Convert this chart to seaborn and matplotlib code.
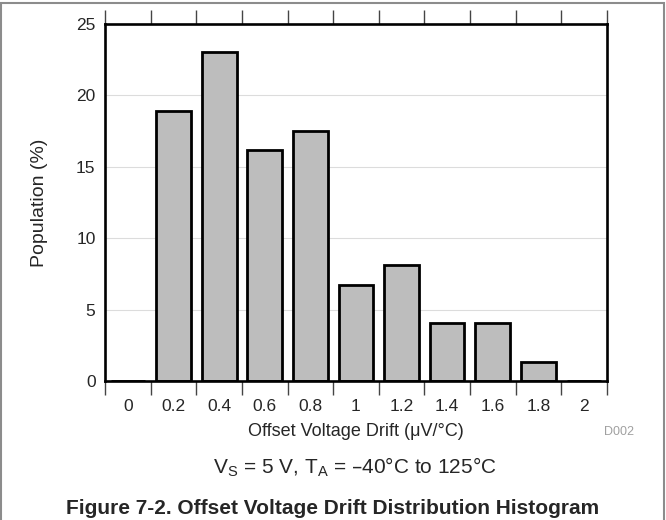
import numpy as np
import pandas as pd
import seaborn as sns
import matplotlib.pyplot as plt
from matplotlib.patches import Rectangle

# histogram values
drift_bins = ['0', '0.2', '0.4', '0.6', '0.8', '1', '1.2', '1.4', '1.6', '1.8', '2']
population = [0, 18.9, 23.0, 16.2, 17.5, 6.7, 8.1, 4.1, 4.1, 1.35, 0]
y_ticks = [0, 5, 10, 15, 20, 25]

df = pd.DataFrame({'drift': drift_bins, 'pop': population})

sns.set_style('white')
plt.rcParams['font.family'] = ['Liberation Sans', 'DejaVu Sans']

fig = plt.figure(figsize=(6.66, 5.2), dpi=100)
ax = fig.add_axes([0.158, 0.267, 0.753, 0.687])

sns.barplot(data=df, x='drift', y='pop', order=drift_bins, color='#bdbdbd',
            saturation=1, edgecolor='black', linewidth=2, width=0.76, ax=ax)

ax.set_xlim(-0.5, len(drift_bins) - 0.5)
ax.set_ylim(0, 25)
ax.set_yticks(y_ticks)
ax.yaxis.grid(True, color='#dcdcdc', linewidth=0.8)
ax.set_axisbelow(True)

# labels centred on the bins, tick marks on the bin edges (top and bottom)
ax.set_xticks(range(len(drift_bins)))
ax.set_xticklabels(drift_bins)
ax.set_xticks(np.arange(-0.5, len(drift_bins)), minor=True)
ax.tick_params(axis='x', which='major', length=0, pad=13, labelsize=12.5)
ax.tick_params(axis='x', which='minor', length=10, width=1, color='#444444',
               bottom=True, top=True, direction='out')
ax.tick_params(axis='y', length=0, pad=7, labelsize=12.5)

for s in ax.spines.values():
    s.set_visible(True)
    s.set_linewidth(1.9)
    s.set_color('black')

ax.set_xlabel('Offset Voltage Drift (μV/°C)', fontsize=13, labelpad=6)
ax.set_ylabel('Population (%)', fontsize=14, labelpad=20)

fig.text(0.952, 0.169, 'D002', color='#a0a0a0', fontsize=9, ha='right', va='center')
fig.text(0.533, 0.101, r'V$_\mathregular{S}$ = 5 V, T$_\mathregular{A}$ = –40°C to 125°C',
         fontsize=15, ha='center', va='center')
fig.text(0.499, 0.023, 'Figure 7-2. Offset Voltage Drift Distribution Histogram',
         fontsize=15, fontweight='bold', ha='center', va='center')

# grey frame around the figure (open at the bottom edge)
fig.patches.append(Rectangle((0.002, -0.05), 0.995, 1.045, transform=fig.transFigure,
                             fill=False, edgecolor='#8c8c8c', linewidth=1.5))

fig.savefig('out.png', dpi=100)
